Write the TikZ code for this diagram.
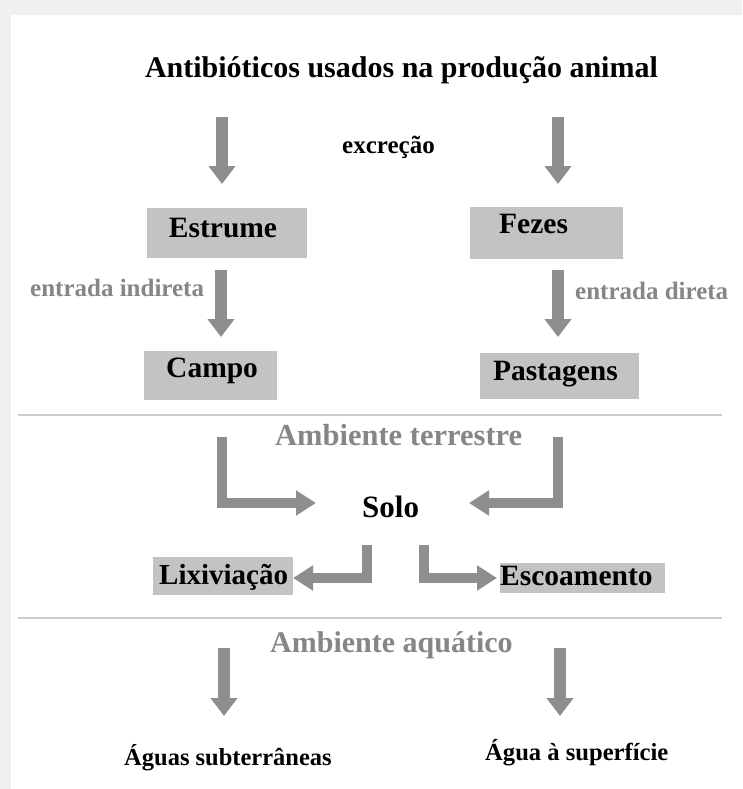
\documentclass[tikz,border=0pt]{standalone}
\usepackage{fontspec}
\setmainfont{Liberation Serif}
\usetikzlibrary{arrows.meta}
\definecolor{arrowgray}{HTML}{8E8E8E}
\definecolor{boxgray}{HTML}{C3C3C3}
\definecolor{labelgray}{HTML}{868686}
\definecolor{rulegray}{HTML}{CCCCCC}
\definecolor{edgegray}{HTML}{F0F0F0}
\begin{document}
\begin{tikzpicture}[x=1pt,y=-1pt,
  txt/.style={inner sep=0pt, font=\bfseries\fontsize{#1}{#1}\selectfont},
  graytxt/.style={txt=#1, text=labelgray},
  boxnode/.style={fill=boxgray, draw=none, inner sep=0pt},
  bigarrow/.style={draw=arrowgray, line width=12pt, line join=miter,
    -{Triangle[width=26pt,length=18pt]}},
  bentarrow/.style={draw=arrowgray, line width=10pt, line join=miter,
    -{Triangle[width=24pt,length=20pt]}},
  sepline/.style={draw=rulegray, line width=1.6pt}
]
% page and background
\fill[edgegray] (0,0) rectangle (742,789);
\fill[white] (11,15) rectangle (742,789);
\useasboundingbox (0,0) rectangle (742,789);

% title
\node[txt=30, anchor=base] (title) at (401.5,78) {Antibióticos usados na produção animal};
\node[txt=25, anchor=base] (excr) at (388.5,153) {excreção};

% boxes
\node[boxnode, minimum width=160pt, minimum height=50pt] (estrumebox) at (227,233) {};
\node[boxnode, minimum width=153pt, minimum height=52pt] (fezesbox) at (546.5,233) {};
\node[boxnode, minimum width=133pt, minimum height=49pt] (campobox) at (210.5,375.5) {};
\node[boxnode, minimum width=159pt, minimum height=46pt] (pastbox) at (559.5,376) {};
\node[boxnode, minimum width=140pt, minimum height=38pt] (lixbox) at (223,576) {};
\node[boxnode, minimum width=165pt, minimum height=30pt] (escbox) at (582.5,578) {};

% box texts
\node[txt=29.5, anchor=base] (estrume) at (223,237) {Estrume};
\node[txt=29.5, anchor=base west] (fezes) at (499,233) {Fezes};
\node[txt=29.5, anchor=base west] (campo) at (166,377) {Campo};
\node[txt=29.5, anchor=base west] (pastagens) at (493,380) {Pastagens};
\node[txt=29, anchor=base west] (lix) at (159,584) {Lixiviação};
\node[txt=29.5, anchor=base west] (esc) at (500,585) {Escoamento};
\node[txt=31, anchor=base west] (solo) at (362,517) {Solo};

% gray labels
\node[graytxt=25, anchor=base west] (indireta) at (30,296) {entrada indireta};
\node[graytxt=25, anchor=base west] (direta) at (575,299) {entrada direta};
\node[graytxt=30.5, anchor=base west] (terrestre) at (275,445) {Ambiente terrestre};
\node[graytxt=30, anchor=base west] (aquatico) at (270,652) {Ambiente aquático};

% bottom texts
\node[txt=24.5, anchor=base west] (subterraneas) at (124,765) {Águas subterrâneas};
\node[txt=24.6, anchor=base west] (superficie) at (485,760) {Água à superfície};

% separator lines
\coordinate (l1a) at (18,415); \coordinate (l1b) at (722,415);
\coordinate (l2a) at (18,618); \coordinate (l2b) at (722,618);
\draw[sepline] (l1a) -- (l1b);
\draw[sepline] (l2a) -- (l2b);

% arrow end points
\coordinate (a1s) at (222,117); \coordinate (a1e) at (222,184);
\coordinate (a2s) at (558,117); \coordinate (a2e) at (558,184);
\coordinate (a3s) at (221,270); \coordinate (a3e) at (221,337);
\coordinate (a4s) at (558,270); \coordinate (a4e) at (558,337);
\coordinate (b1s) at (222,437); \coordinate (b1e) at (316,503);
\coordinate (b2s) at (558,437); \coordinate (b2e) at (469,503);
\coordinate (b3s) at (367,545); \coordinate (b3e) at (293,578);
\coordinate (b4s) at (424,545); \coordinate (b4e) at (497,578);
\coordinate (a5s) at (224,648); \coordinate (a5e) at (224,716);
\coordinate (a6s) at (560,648); \coordinate (a6e) at (560,716);

% arrows
\draw[bigarrow] (a1s) -- (a1e);
\draw[bigarrow] (a2s) -- (a2e);
\draw[bigarrow] (a3s) -- (a3e);
\draw[bigarrow] (a4s) -- (a4e);
\draw[bentarrow] (b1s) |- (b1e);
\draw[bentarrow] (b2s) |- (b2e);
\draw[bentarrow] (b3s) |- (b3e);
\draw[bentarrow] (b4s) |- (b4e);
\draw[bigarrow] (a5s) -- (a5e);
\draw[bigarrow] (a6s) -- (a6e);
\end{tikzpicture}
\end{document}
